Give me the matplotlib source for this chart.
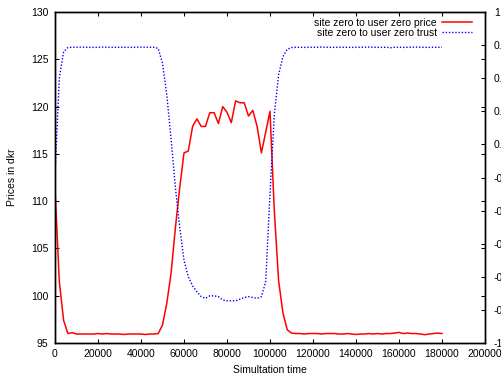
import numpy as np
import matplotlib
matplotlib.use('Agg')
import matplotlib.pyplot as plt
from matplotlib.ticker import FuncFormatter

plt.rcParams['font.family'] = ['Liberation Sans', 'DejaVu Sans']
plt.rcParams['font.size'] = 7.5

# sample times of the simulation run
time = np.arange(0, 180001, 2000)

price = [111.3, 101.5, 97.4, 96.0, 96.1, 95.95, 95.95, 95.95, 95.95, 95.95,
         96.0, 95.95, 96.0, 95.95, 95.95, 95.95, 95.9, 95.95, 95.95, 95.95,
         95.95, 95.9, 95.95, 95.95, 96.0, 96.9, 99.2, 102.4, 107.2, 111.4,
         115.1, 115.3, 117.9, 118.7, 117.9, 117.9, 119.35, 119.35, 118.2, 120.0,
         119.4, 118.3, 120.6, 120.4, 120.4, 119.0, 119.6, 117.9, 115.1, 117.3,
         119.5, 109.0, 101.6, 98.2, 96.4, 96.05, 96.0, 96.0, 95.95, 96.0,
         96.0, 96.0, 95.95, 96.0, 96.0, 96.0, 95.95, 95.95, 96.0, 95.95,
         95.9, 95.95, 95.95, 96.0, 95.95, 96.0, 95.95, 96.0, 96.0, 96.05,
         96.12, 96.0, 96.05, 96.0, 96.0, 95.95, 95.88, 95.95, 96.0, 96.05,
         96.0]

trust = [0.02, 0.6, 0.76, 0.785, 0.787, 0.787, 0.788, 0.787, 0.787, 0.786,
         0.787, 0.788, 0.787, 0.786, 0.787, 0.787, 0.787, 0.786, 0.787, 0.787,
         0.788, 0.787, 0.787, 0.787, 0.78, 0.69, 0.5, 0.23, -0.06, -0.3,
         -0.5, -0.6, -0.655, -0.69, -0.72, -0.73, -0.715, -0.715, -0.72, -0.74,
         -0.745, -0.745, -0.745, -0.735, -0.725, -0.72, -0.725, -0.73, -0.72, -0.63,
         -0.1, 0.38, 0.62, 0.73, 0.775, 0.785, 0.787, 0.787, 0.786, 0.787,
         0.787, 0.787, 0.788, 0.787, 0.787, 0.786, 0.787, 0.787, 0.787, 0.786,
         0.787, 0.787, 0.787, 0.788, 0.787, 0.787, 0.786, 0.787, 0.784, 0.787,
         0.787, 0.786, 0.787, 0.787, 0.788, 0.787, 0.787, 0.786, 0.787, 0.787,
         0.787]

fig = plt.figure(figsize=(5.02, 3.77), dpi=100)
ax = fig.add_axes([55/502, 34/377, 430/502, 331/377])
ax2 = ax.twinx()

l1, = ax.plot(time, price, color='#ff0000', lw=1.1, label='site zero to user zero price')
l2, = ax2.plot(time, trust, color='#0000ff', lw=1.0, linestyle=(0, (1, 1.3)),
               label='site zero to user zero trust')

ax.set_xlim(0, 200000)
ax.set_ylim(95, 130)
ax2.set_ylim(-1, 1)
ax.set_xticks(np.arange(0, 200001, 20000))
ax.set_yticks(np.arange(95, 131, 5))
ax2.set_yticks(np.arange(-1, 1.01, 0.2))
ax2.yaxis.set_major_formatter(FuncFormatter(lambda v, p: '%g' % round(v, 1)))

ax.tick_params(direction='in', length=3.1, width=0.75, top=True, right=True,
               labelright=False)
ax.tick_params(axis='y', pad=4.8)
ax.tick_params(axis='x', pad=4.5)
ax2.tick_params(direction='in', length=3.1, width=0.75, pad=6.3)

for a in (ax, ax2):
    for s in a.spines.values():
        s.set_linewidth(1.0)

ax.set_xlabel('Simultation time', va='center')
ax.set_ylabel('Prices in dkr', va='center')
ax.xaxis.set_label_coords(0.5, -0.0816)
ax.yaxis.set_label_coords(-0.1007, 0.5)

ax2.legend([l1, l2], [l1.get_label(), l2.get_label()], loc='upper right',
           bbox_to_anchor=(0.97, 0.982), frameon=False, markerfirst=False,
           handlelength=2.9, handletextpad=0.5, labelspacing=0.0,
           borderpad=0, borderaxespad=0)

fig.savefig('out.png', dpi=100)
